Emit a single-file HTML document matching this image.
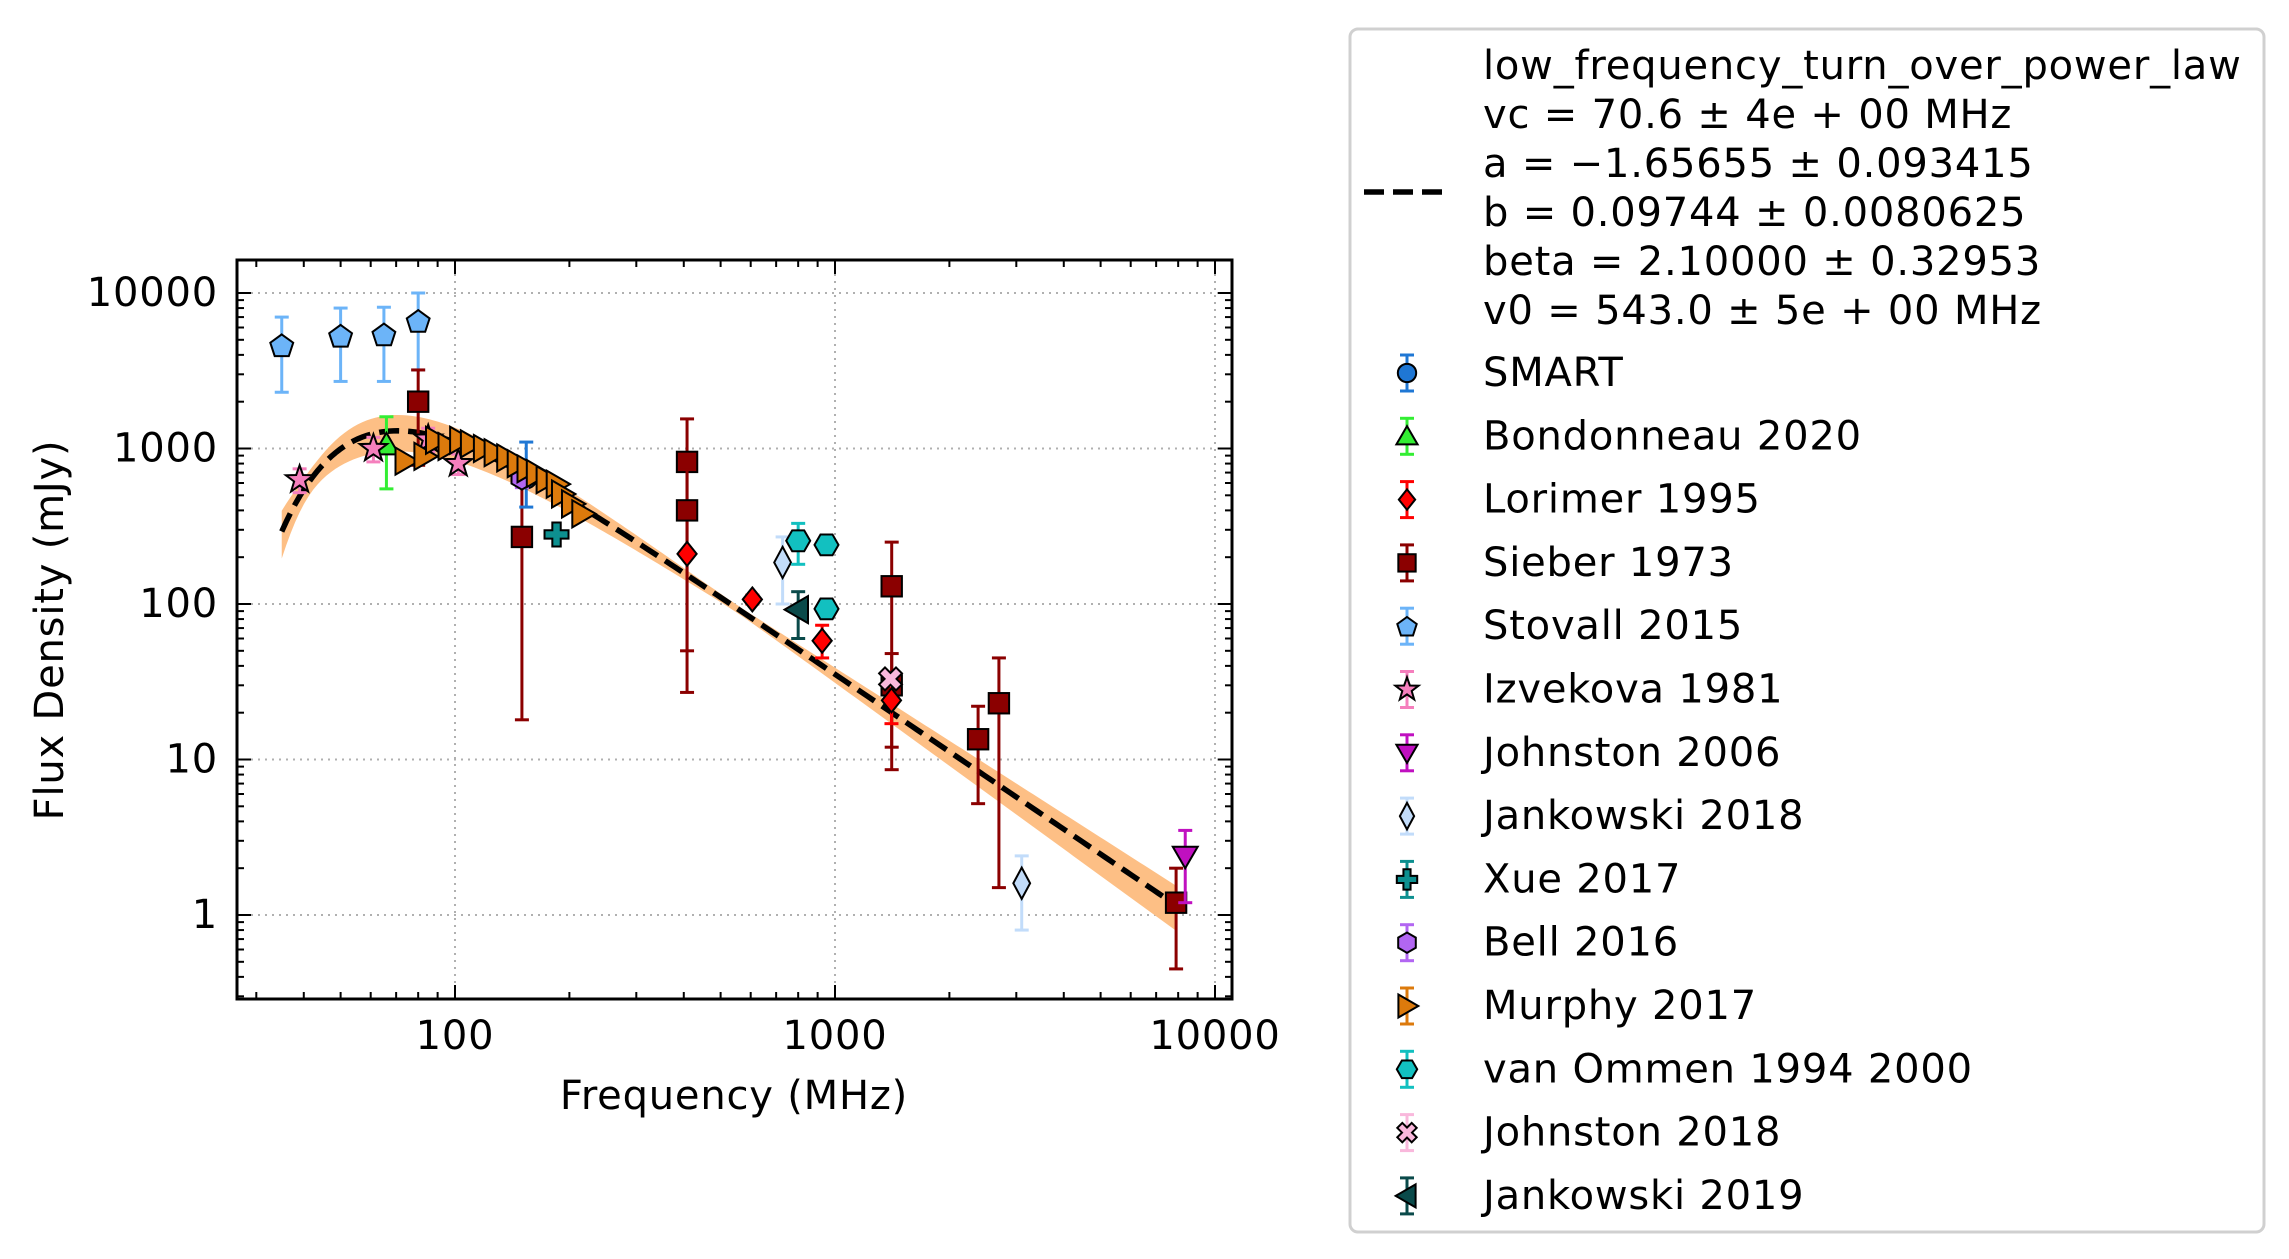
<!DOCTYPE html>
<html><head><meta charset="utf-8"><style>
html,body{margin:0;padding:0;background:#fff;}
svg{display:block;font-family:"DejaVu Sans","Liberation Sans",sans-serif;}
</style></head><body>
<svg id="chart" width="2289" height="1259" viewBox="0 0 2289 1259" xmlns="http://www.w3.org/2000/svg">
<rect width="2289" height="1259" fill="#fff"/>
<g id="grid"></g>
<g id="band"></g>
<g id="fit"></g>
<g id="points"></g>
<g id="axes"></g>
<text x="734" y="1096" font-size="40" letter-spacing="0.8" text-anchor="middle" dominant-baseline="central">Frequency (MHz)</text>
<text x="50" y="630" font-size="40" letter-spacing="0.8" text-anchor="middle" dominant-baseline="central" transform="rotate(-90 50 630)">Flux Density (mJy)</text>
<g id="legend" transform="translate(-6,0)"></g>
</svg>
<script>
// ---- data ----
const seriesNames = ["SMART","Bondonneau 2020","Lorimer 1995","Sieber 1973","Stovall 2015","Izvekova 1981","Johnston 2006","Jankowski 2018","Xue 2017","Bell 2016","Murphy 2017","van Ommen 1994 2000","Johnston 2018","Jankowski 2019"];
const smartFreq = [154]; const smartFlux = [650]; const smartLo = [420]; const smartHi = [1100];
const bondFreq = [66]; const bondFlux = [1050]; const bondLo = [550]; const bondHi = [1600];
const lorFreq = [408, 606, 925, 1408]; const lorFlux = [210, 107, 58, 24]; const lorLo = [200, 100, 45, 17]; const lorHi = [220, 114, 73, 30];
const sieFreq = [80, 150, 408, 408, 1410, 1410, 2380, 2700, 7900]; const sieFlux = [2000, 270, 820, 400, 130, 30, 13.5, 23, 1.2]; const sieLo = [780, 18, 27, 50, 8.6, 12, 5.2, 1.5, 0.45]; const sieHi = [3200, 800, 1550, 760, 250, 48, 22, 45, 2.0];
const stoFreq = [35, 50, 65, 80]; const stoFlux = [4600, 5300, 5400, 6600]; const stoLo = [2300, 2700, 2700, 3200]; const stoHi = [7000, 8000, 8100, 10000];
const izvFreq = [39, 61, 85, 102]; const izvFlux = [630, 1000, 1150, 800]; const izvLo = [520, 820, 950, 680]; const izvHi = [740, 1180, 1350, 920];
const jo06Freq = [8350]; const jo06Flux = [2.4]; const jo06Lo = [1.2]; const jo06Hi = [3.5];
const ja18Freq = [728, 3100]; const ja18Flux = [185, 1.6]; const ja18Lo = [100, 0.8]; const ja18Hi = [270, 2.4];
const xueFreq = [185]; const xueFlux = [280]; const xueLo = [270]; const xueHi = [290];
const bellFreq = [150]; const bellFlux = [650]; const bellLo = [560]; const bellHi = [740];
const murFreq = [74, 83, 89, 96, 103, 110, 119, 127, 137, 146, 155, 164, 174, 185, 191, 203, 216]; const murFlux = [830, 890, 1130, 1030, 1130, 1070, 1000, 940, 870, 800, 740, 690, 630, 590, 510, 440, 380];
const vomFreq = [800, 950, 950]; const vomFlux = [255, 240, 93]; const vomLo = [180, 230, 88]; const vomHi = [330, 250, 98];
const jo18Freq = [1400]; const jo18Flux = [33]; const jo18Lo = [30]; const jo18Hi = [36];
const ja19Freq = [800]; const ja19Flux = [92]; const ja19Lo = [60]; const ja19Hi = [120];
// fit parameters
const fitVc = 70.6, fitA = -1.65655, fitB = 97.44, fitBeta = 2.1, fitV0 = 543.0, fitAErr = 0.093415, fitBetaErr = 0.32953;
const xTicks = [100, 1000, 10000]; const yTicks = [1, 10, 100, 1000, 10000];

// ---- axes ----
const L=237, R=1232, T=260, B=999;
const X0=455, XD=380, Y0=915, YD=155.5;
const xs = f => X0 + (Math.log10(f)-2)*XD;
const ys = v => Y0 - Math.log10(v)*YD;
const NS="http://www.w3.org/2000/svg";
function mk(tag, attrs, parent){const e=document.createElementNS(NS,tag);for(const k in attrs)e.setAttribute(k,attrs[k]);parent.appendChild(e);return e;}
const grid=document.getElementById('grid'), axes=document.getElementById('axes');
xTicks.forEach(t=>{const x=xs(t);if(x<L||x>R)return;
  const g=mk('line',{x1:x,x2:x,y1:T,y2:B,stroke:'#b0b0b0','stroke-width':2,'stroke-dasharray':'2,5'},grid);
   
  const lb=mk('text',{x:x,y:1036,'font-size':40,'letter-spacing':0.8,'text-anchor':'middle','dominant-baseline':'central'},axes);
  lb.textContent=String(t);
   
});
yTicks.forEach(t=>{const y=ys(t);
  const g=mk('line',{x1:L,x2:R,y1:y,y2:y,stroke:'#b0b0b0','stroke-width':2,'stroke-dasharray':'2,5'},grid);
   
  const lb=mk('text',{x:218,y:y,'font-size':40,'letter-spacing':0.8,'text-anchor':'end','dominant-baseline':'central'},axes);
  lb.textContent=String(t);
   
});
for(let d=1;d<=4;d++)for(let m=1;m<10;m++){const f=m*Math.pow(10,d);const x=xs(f);if(x<L+1||x>R-1)continue;const len=m==1?14:7;
  mk('line',{x1:x,x2:x,y1:B,y2:B-len,stroke:'#000','stroke-width':2},axes);
  mk('line',{x1:x,x2:x,y1:T,y2:T+len,stroke:'#000','stroke-width':2},axes);}
for(let d=-1;d<=4;d++)for(let m=1;m<10;m++){const v=m*Math.pow(10,d);const y=ys(v);if(y<T+1||y>B-1)continue;const len=m==1?14:7;
  mk('line',{x1:L,x2:L+len,y1:y,y2:y,stroke:'#000','stroke-width':2},axes);
  mk('line',{x1:R,x2:R-len,y1:y,y2:y,stroke:'#000','stroke-width':2},axes);}
const frame=mk('rect',{x:L,y:T,width:R-L,height:B-T,fill:'none',stroke:'#000','stroke-width':3},axes);
 

// ---- fit ----
function model(f,a,beta){return fitB*Math.pow(f/fitV0,a)*Math.exp(a/beta*Math.pow(f/fitVc,-beta));}
const up=[],lo=[],mid=[];
for(let i=0;i<=200;i++){const f=Math.pow(10,Math.log10(35)+(Math.log10(7900)-Math.log10(35))*i/200);
  const v=model(f,fitA,fitBeta);
  const vals=[model(f,fitA+fitAErr,fitBeta),model(f,fitA-fitAErr,fitBeta),model(f,fitA,fitBeta+fitBetaErr),model(f,fitA,fitBeta-fitBetaErr)];
  let s=0;vals.forEach(w=>{s+=Math.pow(Math.log(w/v),2);});s=Math.sqrt(s/2)+0.04;
  mid.push([xs(f),ys(v)]);up.push([xs(f),ys(v*Math.exp(s))]);lo.push([xs(f),ys(v*Math.exp(-s*1.3))]);}
const bandPts=up.concat(lo.slice().reverse()).map(p=>p.join(',')).join(' ');
const bp=mk('polygon',{points:bandPts,fill:'#fdbf85',stroke:'none'},document.getElementById('band'));
 
const fl=mk('polyline',{points:mid.map(p=>p.join(',')).join(' '),fill:'none',stroke:'#000','stroke-width':5.5,'stroke-dasharray':'20,9'},document.getElementById('fit'));
 

// ---- markers ----
function star(cx,cy,r){let p=[];for(let i=0;i<10;i++){const a=-Math.PI/2+i*Math.PI/5;const rr=i%2?r*0.4:r;p.push((cx+rr*Math.cos(a)).toFixed(1)+','+(cy+rr*Math.sin(a)).toFixed(1));}return p.join(' ');}
function poly(cx,cy,r,n,rot){let p=[];for(let i=0;i<n;i++){const a=rot+i*2*Math.PI/n;p.push((cx+r*Math.cos(a)).toFixed(1)+','+(cy+r*Math.sin(a)).toFixed(1));}return p.join(' ');}
function marker(parent,shape,cx,cy,fill,s){s=s||1;const st={fill:fill,stroke:'#000','stroke-width':2};let e;
  const r=12*s;
  if(shape==='o')e=mk('circle',Object.assign({cx:cx,cy:cy,r:r*0.9},st),parent);
  else if(shape==='^')e=mk('polygon',Object.assign({points:poly(cx,cy+2,r*1.2,3,-Math.PI/2)},st),parent);
  else if(shape==='v')e=mk('polygon',Object.assign({points:poly(cx,cy-2,r*1.2,3,Math.PI/2)},st),parent);
  else if(shape==='>')e=mk('polygon',Object.assign({points:poly(cx-2,cy,r*1.3,3,0)},st),parent);
  else if(shape==='<')e=mk('polygon',Object.assign({points:poly(cx+2,cy,r*1.3,3,Math.PI)},st),parent);
  else if(shape==='D')e=mk('polygon',Object.assign({points:`${cx},${cy-r} ${cx+r*0.8},${cy} ${cx},${cy+r} ${cx-r*0.8},${cy}`},st),parent);
  else if(shape==='d')e=mk('polygon',Object.assign({points:`${cx},${cy-r*1.3} ${cx+r*0.7},${cy} ${cx},${cy+r*1.3} ${cx-r*0.7},${cy}`},st),parent);
  else if(shape==='s')e=mk('rect',Object.assign({x:cx-r*0.85,y:cy-r*0.85,width:r*1.7,height:r*1.7},st),parent);
  else if(shape==='p')e=mk('polygon',Object.assign({points:poly(cx,cy+1,r,5,-Math.PI/2)},st),parent);
  else if(shape==='*')e=mk('polygon',Object.assign({points:star(cx,cy,r*1.2)},st),parent);
  else if(shape==='h')e=mk('polygon',Object.assign({points:poly(cx,cy,r,6,Math.PI/6)},st),parent);
  else if(shape==='H')e=mk('polygon',Object.assign({points:poly(cx,cy,r,6,0)},st),parent);
  else if(shape==='P'){const a=r*0.35,b=r;e=mk('polygon',Object.assign({points:`${cx-a},${cy-b} ${cx+a},${cy-b} ${cx+a},${cy-a} ${cx+b},${cy-a} ${cx+b},${cy+a} ${cx+a},${cy+a} ${cx+a},${cy+b} ${cx-a},${cy+b} ${cx-a},${cy+a} ${cx-b},${cy+a} ${cx-b},${cy-a} ${cx-a},${cy-a}`},st),parent);}
  else if(shape==='X'){const p=[];const base=[[-0.35,-1],[0.35,-1],[0.35,-0.35],[1,-0.35],[1,0.35],[0.35,0.35],[0.35,1],[-0.35,1],[-0.35,0.35],[-1,0.35],[-1,-0.35],[-0.35,-0.35]];const c=Math.SQRT1_2;
    base.forEach(q=>{const x=q[0]*r,y=q[1]*r;p.push((cx+(x-y)*c).toFixed(1)+','+(cy+(x+y)*c).toFixed(1));});e=mk('polygon',Object.assign({points:p.join(' ')},st),parent);}
  return e;}
function errbar(parent,x,ylo,yhi,color){
  mk('line',{x1:x,x2:x,y1:ylo,y2:yhi,stroke:color,'stroke-width':3},parent);
  mk('line',{x1:x-7,x2:x+7,y1:ylo,y2:ylo,stroke:color,'stroke-width':3},parent);
  mk('line',{x1:x-7,x2:x+7,y1:yhi,y2:yhi,stroke:color,'stroke-width':3},parent);}
const pts=document.getElementById('points');
const seriesDefs=[
 {name:'stovall-2015',f:stoFreq,v:stoFlux,lo:stoLo,hi:stoHi,shape:'p',fill:'#6cb4f8',ec:'#6cb4f8'},
 {name:'sieber-1973',f:sieFreq,v:sieFlux,lo:sieLo,hi:sieHi,shape:'s',fill:'#8b0000',ec:'#8b0000'},
 {name:'bondonneau-2020',f:bondFreq,v:bondFlux,lo:bondLo,hi:bondHi,shape:'^',fill:'#33ee33',ec:'#33ee33'},
 {name:'izvekova-1981',f:izvFreq,v:izvFlux,lo:izvLo,hi:izvHi,shape:'*',fill:'#f57fbd',ec:'#f57fbd'},
 {name:'smart',f:smartFreq,v:smartFlux,lo:smartLo,hi:smartHi,shape:'o',fill:'#1f77d4',ec:'#1f77d4'},
 {name:'bell-2016',f:bellFreq,v:bellFlux,lo:bellLo,hi:bellHi,shape:'h',fill:'#b266f2',ec:'#b266f2'},
 {name:'murphy-2017',f:murFreq,v:murFlux,lo:null,hi:null,shape:'>',fill:'#dc7a0c',ec:'#dc7a0c'},
 {name:'xue-2017',f:xueFreq,v:xueFlux,lo:xueLo,hi:xueHi,shape:'P',fill:'#0d9090',ec:'#0d9090'},
 {name:'lorimer-1995',f:lorFreq,v:lorFlux,lo:lorLo,hi:lorHi,shape:'D',fill:'#ff0000',ec:'#ff0000'},
 {name:'jankowski-2018',f:ja18Freq,v:ja18Flux,lo:ja18Lo,hi:ja18Hi,shape:'d',fill:'#c2dcfa',ec:'#c2dcfa'},
 {name:'van-ommen-1994-2000',f:vomFreq,v:vomFlux,lo:vomLo,hi:vomHi,shape:'H',fill:'#12c0c0',ec:'#12c0c0'},
 {name:'jankowski-2019',f:ja19Freq,v:ja19Flux,lo:ja19Lo,hi:ja19Hi,shape:'<',fill:'#0a4a4a',ec:'#0a4a4a'},
 {name:'johnston-2018',f:jo18Freq,v:jo18Flux,lo:jo18Lo,hi:jo18Hi,shape:'X',fill:'#f9b8dc',ec:'#f9b8dc'},
 {name:'johnston-2006',f:jo06Freq,v:jo06Flux,lo:jo06Lo,hi:jo06Hi,shape:'v',fill:'#c010c0',ec:'#c010c0'}
];
seriesDefs.forEach(s=>{
  const g=mk('g',{},pts);
   
  s.f.forEach((f,i)=>{
    if(s.lo)errbar(g,xs(f),ys(s.lo[i]),ys(s.hi[i]),s.ec);
    const m=marker(g,s.shape,xs(f),ys(s.v[i]),s.fill);
     
  });
});

// ---- legend ----
const lg=document.getElementById('legend');
const box=mk('rect',{x:1356,y:29,width:914,height:1203,rx:8,fill:'#fff',stroke:'#d0d0d0','stroke-width':3},lg);
 
const dash=mk('line',{x1:1370,x2:1457,y1:192,y2:192,stroke:'#000','stroke-width':5.5,'stroke-dasharray':'20,9'},lg);
 
const headerLines=["low_frequency_turn_over_power_law","vc = 70.6 ± 4e + 00 MHz","a = −1.65655 ± 0.093415","b = 0.09744 ± 0.0080625","beta = 2.10000 ± 0.32953","v0 = 543.0 ± 5e + 00 MHz"];
headerLines.forEach((t,i)=>{const e=mk('text',{x:1489,y:66+i*49,'font-size':40,'letter-spacing':0.8,'dominant-baseline':'central'},lg);e.textContent=t;
   });
const legendOrder=['smart','bondonneau-2020','lorimer-1995','sieber-1973','stovall-2015','izvekova-1981','johnston-2006','jankowski-2018','xue-2017','bell-2016','murphy-2017','van-ommen-1994-2000','johnston-2018','jankowski-2019'];
legendOrder.forEach((n,i)=>{const s=seriesDefs.find(d=>d.name===n);const y=373+i*63.3;
  const g=mk('g',{},lg);
   
  errbar(g,1413,y+18,y-18,s.ec);
  marker(g,s.shape,1413,y,s.fill,0.85);
  const t=mk('text',{x:1489,y:y,'font-size':40,'letter-spacing':0.8,'dominant-baseline':'central'},g);t.textContent=seriesNames[i];
});
</script>
</body></html>
